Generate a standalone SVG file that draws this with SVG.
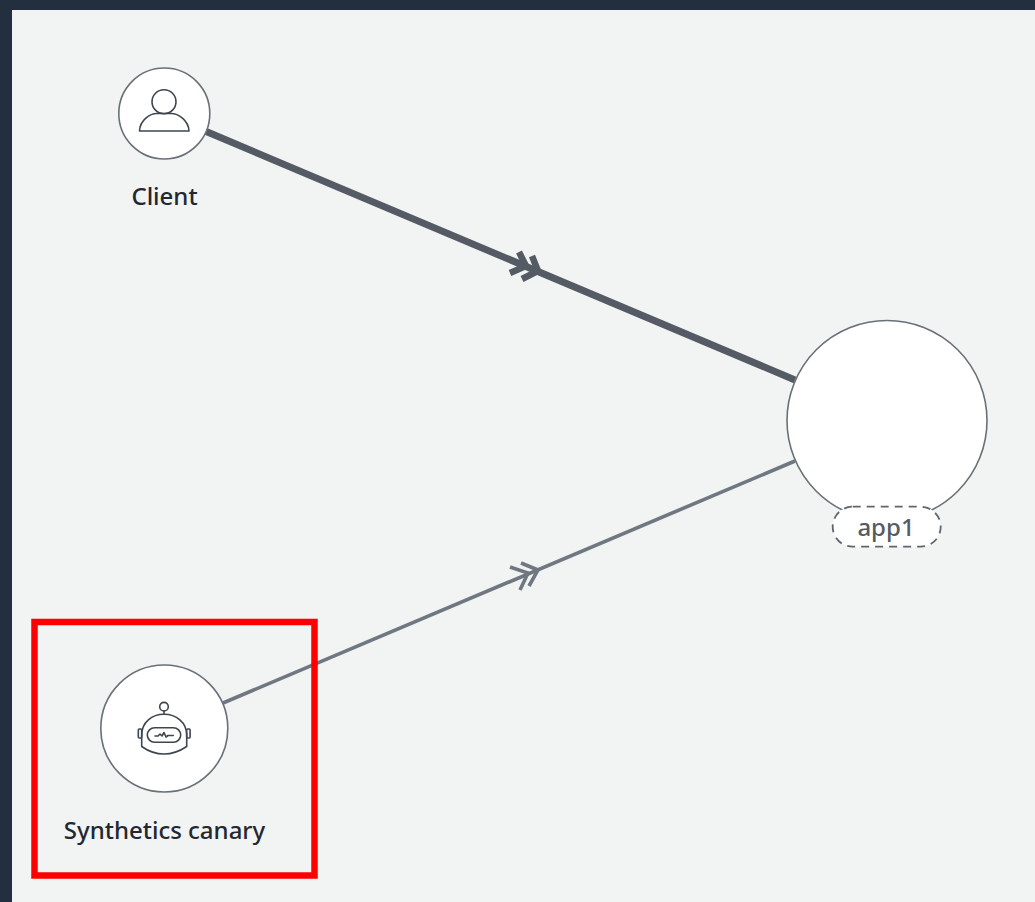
<svg xmlns="http://www.w3.org/2000/svg" width="1035" height="902" viewBox="0 0 1035 902">
<style>
.node{fill:#fff;stroke:#687078;stroke-width:1.6}
.icon{fill:none;stroke:#3f4650;stroke-width:1.6;stroke-linejoin:round;stroke-linecap:round}
.lbl{font-family:"Noto Sans","Open Sans","Liberation Sans",sans-serif;font-size:24px;font-weight:500;fill:#232830;text-anchor:middle}
.thick{fill:none;stroke:#545b64;stroke-width:7}
.thin{fill:none;stroke:#6f7780;stroke-width:3.6}
</style>
<rect width="1035" height="902" fill="#232f3e"/>
<rect x="12" y="10" width="1023" height="892" fill="#f2f3f3"/>
<g id="connectors">
<path class="thick" d="M205 131L795 380"/>
<path class="thick" style="stroke-width:6.500" d="M519 252L526 266L510 273M532 256L538 271L522 279"/>
<path class="thin" d="M223 703L795 461"/>
<path class="thin" d="M510 567L528 573L520 590M521 563L538 570L529 586"/>
</g>
<g id="client">
<circle class="node" cx="164.300" cy="113.500" r="45.500"/>
<circle class="icon" cx="164" cy="101.700" r="12"/>
<path class="icon" d="M139.500 131C140 120 150 113.500 157 113.500H171C178 113.500 188.500 120 189 131Z"/>
<text class="lbl" x="164.500" y="205">Client</text>
</g>
<g id="canary">
<circle class="node" cx="164.300" cy="728.500" r="63.500"/>
<g class="icon">
<circle cx="164" cy="706.700" r="4.300"/>
<path d="M164 711V714.300"/>
<path d="M141.700 746.500V735C141.700 722 152 714.300 164 714.300S186.700 722 186.700 735V746.500C180 751 172 754 164 754S148 751 141.700 746.500Z"/>
<rect x="147.300" y="727.700" width="33.400" height="14.600" rx="7.300"/>
<rect x="138.300" y="729" width="3.400" height="9" rx="1"/>
<rect x="186.700" y="729" width="3.400" height="9" rx="1"/>
<path d="M155 736H158L160 734L162 736L164 732.500L166 737L168 735.500H173.300"/>
</g>
<text class="lbl" x="164.500" y="839">Synthetics canary</text>
</g>
<g id="app1">
<circle class="node" cx="887" cy="420.500" r="100"/>
<rect x="832.700" y="506.700" width="108" height="40" rx="20" fill="#fff" stroke="#5f6670" stroke-width="1.800" stroke-dasharray="8 6"/>
<text x="886" y="536" style="font-family:'Noto Sans','Open Sans','Liberation Sans',sans-serif;font-size:24px;font-weight:500;fill:#545b64;text-anchor:middle">app1</text>
</g>
<rect id="highlight" x="34.500" y="622" width="280" height="253.500" fill="none" stroke="#ff0000" stroke-width="6.500"/>
</svg>
